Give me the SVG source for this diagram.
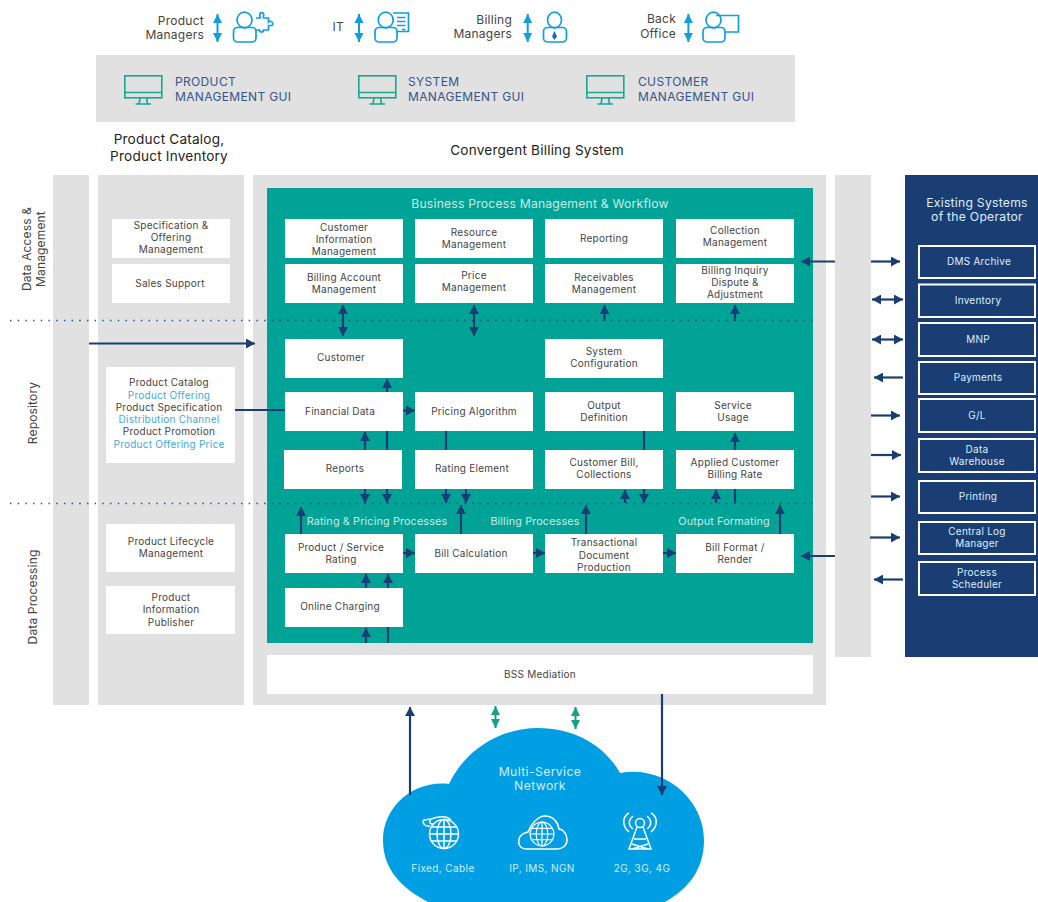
<svg xmlns="http://www.w3.org/2000/svg" width="1038" height="902" viewBox="0 0 1038 902">
<style>
text{font-family:"Inter","Noto Sans","Liberation Sans",sans-serif;font-size:10px;letter-spacing:.25px;fill:#444;text-anchor:middle}
.gray{fill:#e1e1e1}
.box{fill:#fff}
.ext{fill:none;stroke:#fff;stroke-width:2}
.t{fill:#dcefff}
.big{font-size:12.2px}
.c{fill:#d2eefb;letter-spacing:.4px}
.pro{fill:#c9ece6;font-size:10.8px;letter-spacing:.15px}
.bp{font-size:12.2px;letter-spacing:.2px}
.gui{fill:#35548a;font-size:12px;letter-spacing:.35px;text-anchor:start}
.top{font-size:12px;text-anchor:end}
.hd{font-size:13.6px;letter-spacing:.2px;fill:#222}
.rot{font-size:12px;letter-spacing:.15px}
.lb{fill:#3ea9e2}
.a{stroke:#1a3e73;stroke-width:2.2;fill:none}
.ar{marker-end:url(#h)}
.ad{marker-start:url(#hs);marker-end:url(#h)}
.ta{stroke:#16a085;stroke-width:2;fill:none;marker-start:url(#tas);marker-end:url(#ta)}
.ba{stroke:#0f9fe0;stroke-width:2;fill:none;marker-start:url(#bas);marker-end:url(#ba)}
.dot{stroke:#1a4a78;stroke-width:1.4;stroke-dasharray:1.4 6.3;fill:none}
.ic{fill:none;stroke:#16a890;stroke-width:1.6}
.p{fill:none;stroke:#0f9fe0;stroke-width:1.7}
.w{fill:none;stroke:#fff;stroke-width:1.5}
</style>
<defs>
<marker id="h" markerUnits="userSpaceOnUse" markerWidth="10" markerHeight="10" refX="9" refY="5" orient="auto"><path d="M0 0L9 5L0 10Z" fill="#1a3e73"/></marker>
<marker id="hs" markerUnits="userSpaceOnUse" markerWidth="10" markerHeight="10" refX="0" refY="5" orient="auto"><path d="M9 0L0 5L9 10Z" fill="#1a3e73"/></marker>
<marker id="ta" markerUnits="userSpaceOnUse" markerWidth="10" markerHeight="10" refX="9" refY="5" orient="auto"><path d="M0 0.5L9 5L0 9.5Z" fill="#16a085"/></marker>
<marker id="tas" markerUnits="userSpaceOnUse" markerWidth="10" markerHeight="10" refX="0" refY="5" orient="auto"><path d="M9 0.5L0 5L9 9.5Z" fill="#16a085"/></marker>
<marker id="ba" markerUnits="userSpaceOnUse" markerWidth="10" markerHeight="10" refX="9" refY="5" orient="auto"><path d="M0 0.5L9 5L0 9.5Z" fill="#0f9fe0"/></marker>
<marker id="bas" markerUnits="userSpaceOnUse" markerWidth="10" markerHeight="10" refX="0" refY="5" orient="auto"><path d="M9 0.5L0 5L9 9.5Z" fill="#0f9fe0"/></marker>
<g id="mon"><rect class="ic" x="0.8" y="0.8" width="37" height="22"/><path class="ic" d="M0.8 17.5H37.8M16 23L15 29M22.5 23L23.5 29M11.5 29H27"/></g>
<g id="globe"><circle class="w" r="14.5"/><ellipse class="w" rx="7" ry="14.5"/><path class="w" d="M0 -14.5V14.5M-14.5 0H14.5M-12.5 -7H12.5M-12.5 7H12.5"/></g>
</defs>

<g id="top-band"><rect class="gray" x="96" y="55" width="699" height="67"/></g>
<g id="col-access"><rect class="gray" x="53" y="175" width="36" height="530"/>
<text class="rot" transform="translate(31 249) rotate(-90)">Data Access &amp;</text>
<text class="rot" transform="translate(45 249) rotate(-90)">Management</text>
<text class="rot" transform="translate(37 413) rotate(-90)">Repository</text>
<text class="rot" transform="translate(37 597) rotate(-90)">Data Processing</text></g>
<g id="col-catalog"><rect class="gray" x="98" y="175" width="146" height="530"/></g>
<g id="col-main"><rect class="gray" x="253" y="175" width="573" height="530"/></g>
<g id="col-right"><rect class="gray" x="835" y="175" width="36" height="482"/></g>
<g id="teal"><rect fill="#00a396" x="267" y="188" width="546" height="455"/></g>

<g id="users">
<g id="u1"><text class="top" x="204" y="25">Product</text><text class="top" x="204" y="39">Managers</text>
<ellipse class="p" cx="244.500" cy="20" rx="7.500" ry="7.800"/><rect class="p" x="233.500" y="27.500" width="22.500" height="14.500" rx="4"/>
<path class="p" d="M256 18H260V15.500A2 2 0 1 1 263.500 15.500V18H268.500V22A2 2 0 1 1 272 25.500H268.500V30H263.500A2 2 0 1 1 259.500 30H256"/></g>
<g id="u2"><text class="top" x="344" y="31">IT</text>
<ellipse class="p" cx="385.700" cy="20" rx="7.500" ry="7.800"/><rect class="p" x="375" y="27.500" width="22" height="14.500" rx="4"/>
<path class="p" d="M393 13H408.500V31.500H397M397 17.500H405.500M397 21.500H405.500M397 25.500H405.500M402 29.500H405.500"/></g>
<g id="u3"><text class="top" x="512" y="24">Billing</text><text class="top" x="512" y="38">Managers</text>
<ellipse class="p" cx="554.500" cy="20" rx="7" ry="7.800"/><rect class="p" x="543.500" y="27.500" width="23" height="14.500" rx="4"/>
<path d="M554.500 31L557 36.500L554.500 40L552 36.500Z" fill="#1a6fa8"/></g>
<g id="u4"><text class="top" x="676" y="23">Back</text><text class="top" x="676" y="38">Office</text>
<ellipse class="p" cx="713.500" cy="20" rx="7.500" ry="7.800"/><rect class="p" x="703" y="27.500" width="22" height="14.500" rx="4"/>
<path class="p" d="M716 15.500H738.500V32H725.500"/></g>
</g>
<g id="guis">
<g id="gui1"><use href="#mon" x="124" y="75"/><text class="gui" x="175" y="86">PRODUCT</text><text class="gui" x="175" y="101">MANAGEMENT GUI</text></g>
<g id="gui2"><use href="#mon" x="358" y="75"/><text class="gui" x="408" y="86">SYSTEM</text><text class="gui" x="408" y="101">MANAGEMENT GUI</text></g>
<g id="gui3"><use href="#mon" x="586" y="75"/><text class="gui" x="638" y="86">CUSTOMER</text><text class="gui" x="638" y="101">MANAGEMENT GUI</text></g>
</g>
<text class="hd" x="169" y="144">Product Catalog,</text>
<text class="hd" x="169" y="161">Product Inventory</text>
<text class="hd" x="537" y="155">Convergent Billing System</text>
<text class="pro bp" x="540" y="208">Business Process Management &amp; Workflow</text>

<g id="left-nodes">
<g id="n-spec"><rect class="box" x="112" y="219" width="118" height="39"/><text x="171" y="229">Specification &amp;</text><text x="171" y="241">Offering</text><text x="171" y="253">Management</text></g>
<g id="n-sales"><rect class="box" x="112" y="264" width="118" height="39"/><text x="170" y="287">Sales Support</text></g>
<g id="n-catalog"><rect class="box" x="106" y="367" width="129" height="96"/>
<text x="169" y="386">Product Catalog</text><text class="lb" x="169" y="399">Product Offering</text><text x="169" y="411">Product Specification</text><text class="lb" x="169" y="423">Distribution Channel</text><text x="169" y="435">Product Promotion</text><text class="lb" x="169" y="448">Product Offering Price</text></g>
<g id="n-life"><rect class="box" x="106" y="524" width="129" height="48"/><text x="171" y="545">Product Lifecycle</text><text x="171" y="557">Management</text></g>
<g id="n-pub"><rect class="box" x="106" y="586" width="129" height="48"/><text x="171" y="601">Product</text><text x="171" y="613">Information</text><text x="171" y="626">Publisher</text></g>
</g>

<g id="main-nodes">
<g id="n1"><rect class="box" x="285" y="219" width="118" height="39"/><text x="344" y="231">Customer</text><text x="344" y="243">Information</text><text x="344" y="255">Management</text></g>
<g id="n2"><rect class="box" x="415" y="219" width="118" height="39"/><text x="474" y="236">Resource</text><text x="474" y="248">Management</text></g>
<g id="n3"><rect class="box" x="545" y="219" width="118" height="39"/><text x="604" y="242">Reporting</text></g>
<g id="n4"><rect class="box" x="676" y="219" width="118" height="39"/><text x="735" y="234">Collection</text><text x="735" y="246">Management</text></g>
<g id="n5"><rect class="box" x="285" y="264" width="118" height="39"/><text x="344" y="281">Billing Account</text><text x="344" y="293">Management</text></g>
<g id="n6"><rect class="box" x="415" y="264" width="118" height="39"/><text x="474" y="279">Price</text><text x="474" y="291">Management</text></g>
<g id="n7"><rect class="box" x="545" y="264" width="118" height="39"/><text x="604" y="281">Receivables</text><text x="604" y="293">Management</text></g>
<g id="n8"><rect class="box" x="676" y="264" width="118" height="39"/><text x="735" y="274">Billing Inquiry</text><text x="735" y="286">Dispute &amp;</text><text x="735" y="298">Adjustment</text></g>
<g id="n9"><rect class="box" x="285" y="339" width="118" height="39"/><text x="341" y="361">Customer</text></g>
<g id="n10"><rect class="box" x="545" y="339" width="118" height="39"/><text x="604" y="355">System</text><text x="604" y="367">Configuration</text></g>
<g id="n11"><rect class="box" x="285" y="392" width="118" height="39"/><text x="340" y="415">Financial Data</text></g>
<g id="n12"><rect class="box" x="415" y="392" width="118" height="39"/><text x="474" y="415">Pricing Algorithm</text></g>
<g id="n13"><rect class="box" x="545" y="392" width="118" height="39"/><text x="604" y="409">Output</text><text x="604" y="421">Definition</text></g>
<g id="n14"><rect class="box" x="676" y="392" width="118" height="39"/><text x="733" y="409">Service</text><text x="733" y="421">Usage</text></g>
<g id="n15"><rect class="box" x="284" y="450" width="118" height="39"/><text x="345" y="472">Reports</text></g>
<g id="n16"><rect class="box" x="415" y="450" width="118" height="39"/><text x="472" y="472">Rating Element</text></g>
<g id="n17"><rect class="box" x="545" y="450" width="118" height="39"/><text x="604" y="466">Customer Bill,</text><text x="604" y="478">Collections</text></g>
<g id="n18"><rect class="box" x="676" y="450" width="118" height="39"/><text x="735" y="466">Applied Customer</text><text x="735" y="478">Billing Rate</text></g>
<g id="n19"><rect class="box" x="285" y="534" width="118" height="39"/><text x="341" y="551">Product / Service</text><text x="341" y="563">Rating</text></g>
<g id="n20"><rect class="box" x="415" y="534" width="118" height="39"/><text x="471" y="557">Bill Calculation</text></g>
<g id="n21"><rect class="box" x="545" y="534" width="118" height="39"/><text x="604" y="546">Transactional</text><text x="604" y="559">Document</text><text x="604" y="571">Production</text></g>
<g id="n22"><rect class="box" x="676" y="534" width="118" height="39"/><text x="735" y="551">Bill Format /</text><text x="735" y="563">Render</text></g>
<g id="n23"><rect class="box" x="285" y="588" width="118" height="39"/><text x="340" y="610">Online Charging</text></g>
<g id="n24"><rect class="box" x="267" y="655" width="546" height="39"/><text x="540" y="678">BSS Mediation</text></g>
<text class="pro" x="377" y="525">Rating &amp; Pricing Processes</text>
<text class="pro" x="535" y="525">Billing Processes</text>
<text class="pro" x="724" y="525">Output Formating</text>
</g>

<g id="existing">
<rect fill="#1a3e73" x="905" y="175" width="133" height="482"/>
<text class="t big" x="977" y="207">Existing Systems</text><text class="t big" x="977" y="221">of the Operator</text>
<g id="e1"><rect class="ext" x="919" y="246" width="116" height="32"/><text class="t" x="979" y="265">DMS Archive</text></g>
<g id="e2"><rect class="ext" x="919" y="284.500" width="116" height="32.500"/><text class="t" x="978" y="304">Inventory</text></g>
<g id="e3"><rect class="ext" x="919" y="323" width="116" height="33"/><text class="t" x="978" y="343">MNP</text></g>
<g id="e4"><rect class="ext" x="919" y="362" width="116" height="32"/><text class="t" x="978" y="381">Payments</text></g>
<g id="e5"><rect class="ext" x="919" y="399" width="116" height="33"/><text class="t" x="977" y="419">G/L</text></g>
<g id="e6"><rect class="ext" x="919" y="439" width="116" height="33"/><text class="t" x="977" y="453">Data</text><text class="t" x="977" y="465">Warehouse</text></g>
<g id="e7"><rect class="ext" x="919" y="481" width="116" height="32"/><text class="t" x="978" y="500">Printing</text></g>
<g id="e8"><rect class="ext" x="919" y="522" width="116" height="32"/><text class="t" x="977" y="535">Central Log</text><text class="t" x="977" y="547">Manager</text></g>
<g id="e9"><rect class="ext" x="919" y="562" width="116" height="33"/><text class="t" x="977" y="576">Process</text><text class="t" x="977" y="588">Scheduler</text></g>
</g>

<g id="cloud">
<path fill="#009fe3" d="M449 784C465 750 500 728 538 728C575 728 605 746 620 773C665 765 704 800 704 840C704 870 688 889 665 902L428 902C402 888 383 870 383 840C383 808 412 780 449 784Z"/>
<text class="c big" x="540" y="776">Multi-Service</text><text class="c big" x="540" y="790">Network</text>
<g id="ic-fixed"><use href="#globe" x="444" y="834"/><path class="w" d="M430 826C424 827 422 822 424 820L431 819C429 821 429 824 433 824M431 819C437 817 446 815 451 820"/></g>
<text class="c" x="443" y="872">Fixed, Cable</text>
<g id="ic-ip"><path class="w" d="M527 849C519 849 518 843 519 839C520 834 525 833 528 832C531 824 538 816 545 816C553 816 558 822 559 829C565 830 567 836 567 840C567 846 562 849 557 849Z"/><use href="#globe" transform="translate(542 834) scale(.82)"/></g>
<text class="c" x="542" y="872">IP, IMS, NGN</text>
<g id="ic-tower"><circle class="w" cx="640" cy="823" r="4.500"/><path class="w" d="M637 827L629 849H651L643 827M634 839H646M632 844L648 849M648 844L632 849M633 829C628 825 628 820 633 816M647 829C652 825 652 820 647 816M629 832C622 826 622 817 629 813M651 832C658 826 658 817 651 813"/></g>
<text class="c" x="642" y="872">2G, 3G, 4G</text>
</g>

<g id="connectors">
<path class="dot" d="M10 320.500H812M10 503.500H812"/>
<path class="ba" d="M217.500 14V42"/><path class="ba" d="M359 14V42"/><path class="ba" d="M527.700 14V42"/><path class="ba" d="M688.400 14V42"/>
<g class="a">
<path class="ad" d="M343 305V336"/><path class="ad" d="M474 305V336"/>
<path class="ar" d="M604.500 321V305"/><path class="ar" d="M735 321V305"/>
<path class="ar" d="M89 343.500H255"/><path d="M235 410H285"/>
<path class="ar" d="M387 392V379"/><path class="ar" d="M403 410.500H415"/>
<path class="ar" d="M365 450V432"/><path d="M387 431V450M446 431V450M644 431V450M735 489V503"/>
<path class="ar" d="M735 450V433"/>
<path class="ar" d="M365 489V503"/><path class="ar" d="M387 489V503"/><path class="ar" d="M446 489V503"/><path class="ar" d="M466 489V503"/><path class="ar" d="M644 489V503"/>
<path class="ar" d="M625 503V490"/><path class="ar" d="M716 503V490"/>
<path class="ar" d="M301 534V507"/><path class="ar" d="M461 534V505"/><path class="ar" d="M586 534V505"/><path class="ar" d="M780 534V505"/>
<path class="ar" d="M403 553H415"/><path class="ar" d="M533 553H545"/><path class="ar" d="M663 553H676"/>
<path class="ar" d="M366 588V574"/><path class="ar" d="M388 588V574"/><path class="ar" d="M366 643V628"/><path d="M388 643V627"/>
<path class="ar" d="M835 261.500H801"/><path class="ar" d="M871 261.500H900"/>
<path class="ad" d="M872 299.500H903"/><path class="ad" d="M872 339.500H903"/>
<path class="ar" d="M903 377.500H874"/><path class="ar" d="M871 415.500H900"/><path class="ar" d="M871 455H901"/><path class="ar" d="M871 496.500H900"/><path class="ar" d="M870 537.500H900"/><path class="ar" d="M903 579.500H874"/>
<path class="ar" d="M835 556H801"/>
<path class="ar" d="M410 795V707"/><path class="ar" d="M662 694V795"/>
</g>
<path class="ta" d="M495.500 706V728"/><path class="ta" d="M575.500 707V729"/>
</g>
</svg>
